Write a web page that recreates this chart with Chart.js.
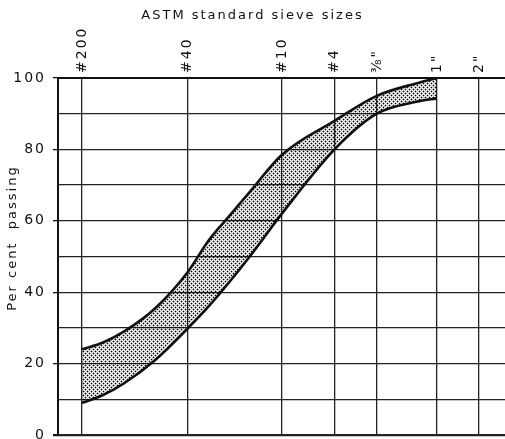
<!DOCTYPE html>
<html><head><meta charset="utf-8">
<script src="https://cdn.jsdelivr.net/npm/chart.js@4"></script>
<style>html,body{margin:0;padding:0;background:#fff;overflow:hidden}#wrap{position:relative;width:505px;height:439px}</style>
</head><body><div id="wrap"><canvas id="c"></canvas></div>
<script>
// ASTM sieve openings (mm) shown on the top axis, and their labels
const sieveSizesMm = [0.075, 0.425, 2.0, 4.75, 9.5, 25.4, 50.8];
const sieveLabels = ['#200', '#40', '#10', '#4', '⅜"', '1"', '2"'];
// grading envelope (per cent passing)
const gradationSizesMm = [0.075, 0.106, 0.15, 0.25, 0.425, 0.6, 0.85, 1.18, 2.0, 4.75, 9.5, 19.0, 25.4];
const upperPassing = [24, 25.9, 29, 35.5, 45.6, 54.5, 61.5, 68.1, 78.5, 88, 95, 98.7, 100];
const lowerPassing = [9, 11.2, 14.5, 21, 29.8, 36, 43, 50, 62, 80, 90, 93.5, 94.3];
// y axis
const yGridValues = [0, 10, 20, 30, 40, 50, 60, 70, 80, 90, 100];
const yLabelValues = [0, 20, 40, 60, 80, 100];

Chart.defaults.font.family = '"DejaVu Sans", sans-serif';
Chart.defaults.color = '#111';

const canvas = document.getElementById('c');
function makeStipple() {
  const c = document.createElement('canvas'); c.width = 4; c.height = 4;
  const g = c.getContext('2d');
  g.fillStyle = 'rgba(0,0,0,1)';
  g.fillRect(1, 1, 1, 1); g.fillRect(3, 3, 1, 1);
  g.fillStyle = 'rgba(0,0,0,0.35)';
  [[0,1],[2,1],[1,0],[1,2],[2,3],[0,3],[3,2],[3,0]].forEach(p => g.fillRect(p[0], p[1], 1, 1));
  return canvas.getContext('2d').createPattern(c, 'repeat');
}
const stipple = makeStipple();

const spacingPlugin = { id: 'spacing', beforeDraw(chart) { chart.ctx.letterSpacing = '2px'; } };

new Chart(canvas, {
  type: 'line',
  data: {
    datasets: [
      { label: 'Upper limit', data: gradationSizesMm.map((x, i) => ({ x, y: upperPassing[i] })),
        borderColor: '#111', borderWidth: 2.6, pointRadius: 0, cubicInterpolationMode: 'monotone',
        fill: '+1', backgroundColor: stipple },
      { label: 'Lower limit', data: gradationSizesMm.map((x, i) => ({ x, y: lowerPassing[i] })),
        borderColor: '#111', borderWidth: 2.6, pointRadius: 0, cubicInterpolationMode: 'monotone',
        fill: false }
    ]
  },
  plugins: [spacingPlugin],
  options: {
    responsive: true, maintainAspectRatio: false, animation: false,
    layout: { padding: 0 },
    plugins: {
      legend: { display: false }, tooltip: { enabled: false },
      title: { display: true, text: 'ASTM standard sieve sizes', color: '#111',
        font: { size: 13, weight: 'normal' }, padding: { top: 8, bottom: 0 } }
    },
    scales: {
      x: {
        type: 'logarithmic', position: 'top', min: 0.0506, max: 78,
        afterBuildTicks: s => { s.ticks = sieveSizesMm.map(v => ({ value: v })); },
        afterFit: s => { s.height = 54.4; },
        ticks: { autoSkip: false, minRotation: 90, maxRotation: 90, padding: 5, labelOffset: 17,
          color: '#111', font: { size: 14 }, callback: (v, i) => sieveLabels[i] },
        grid: { color: '#222', lineWidth: 1.3, drawTicks: false },
        border: { display: true, color: '#111', width: 2 }
      },
      y: {
        min: 0, max: 100,
        afterBuildTicks: s => { s.ticks = yGridValues.map(v => ({ value: v })); },
        afterFit: s => { s.width = 58; s.paddingBottom = 4; },
        ticks: { color: '#111', font: { size: 14 }, padding: 7,
          callback: v => yLabelValues.includes(v) ? String(v) : '' },
        grid: { color: '#222', lineWidth: c => (c.tick && c.tick.value === 0) ? 2.2 : 1.3,
          tickLength: 5,
          tickColor: c => (c.tick && yLabelValues.includes(c.tick.value)) ? '#111' : 'rgba(0,0,0,0)' },
        border: { display: true, color: '#111', width: 2 },
        title: { display: true, text: '      Per cent  passing', color: '#111',
          font: { size: 13 }, padding: { top: 5, bottom: 0 } }
      }
    }
  }
});
</script></body></html>
